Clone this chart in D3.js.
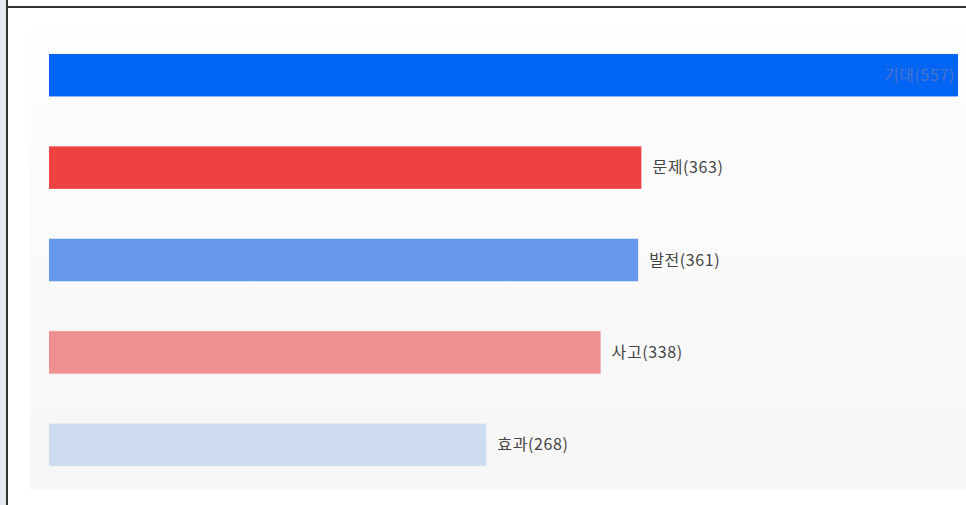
<!DOCTYPE html>
<html><head><meta charset="utf-8">
<script src="https://cdn.jsdelivr.net/npm/d3@7"></script>
<style>
html,body{margin:0;padding:0;background:#fff;}
svg{display:block;}
</style></head>
<body>
<svg id="chart" width="966" height="505"></svg>
<script>
const categories = ["기대", "문제", "발전", "사고", "효과"];
const values = [557, 363, 361, 338, 268];
const colors = ["#0064f5", "#ee4242", "#6699ee", "#ef9090", "#cddcf0"];

const svg = d3.select("#chart");
const W = 966, H = 505;

svg.append("rect").attr("x", 0).attr("y", 0).attr("width", 6).attr("height", H).attr("fill", "#e4e9f2");
svg.append("rect").attr("x", 8).attr("y", 8).attr("width", W - 8).attr("height", H - 8).attr("fill", "#ffffff");
const defs = svg.append("defs");
const g = defs.append("linearGradient").attr("id", "bg").attr("x1", 0).attr("y1", 0).attr("x2", 0).attr("y2", 1);
g.append("stop").attr("offset", "0%").attr("stop-color", "#fefefe");
g.append("stop").attr("offset", "100%").attr("stop-color", "#f6f6f6");
svg.append("rect").attr("x", 30).attr("y", 30).attr("width", W - 30).attr("height", 460).attr("fill", "url(#bg)");

svg.append("line").attr("x1", 7).attr("x2", 7).attr("y1", 0).attr("y2", H).attr("stroke", "#333").attr("stroke-width", 2);
svg.append("line").attr("x1", 6).attr("x2", W).attr("y1", 7).attr("y2", 7).attr("stroke", "#333").attr("stroke-width", 2);

const x = d3.scaleLinear().domain([0, 557]).range([49, 958]);
const y = d3.scaleBand().domain(categories).range([29, 491]).paddingInner(0.54).paddingOuter(0.27);

const data = categories.map((c, i) => ({c, v: values[i], col: colors[i]}));

svg.selectAll("rect.bar").data(data).enter().append("rect")
  .attr("class", "bar")
  .attr("x", x(0))
  .attr("y", d => y(d.c))
  .attr("width", d => x(d.v) - x(0))
  .attr("height", y.bandwidth())
  .attr("fill", d => d.col);

svg.selectAll("text.lbl").data(data).enter().append("text")
  .attr("class", "lbl")
  .attr("x", (d, i) => i === 0 ? x(d.v) - 3 : x(d.v) + 11)
  .attr("y", d => y(d.c) + y.bandwidth() / 2)
  .attr("dy", "0.35em")
  .attr("text-anchor", (d, i) => i === 0 ? "end" : "start")
  .attr("font-family", "'Noto Sans CJK KR', 'Noto Sans', sans-serif")
  .attr("font-size", 16)
  .attr("letter-spacing", "0.6px")
  .attr("fill", (d, i) => i === 0 ? "#4d74c8" : "#444")
  .text(d => `${d.c}(${d.v})`);
</script>
</body></html>
